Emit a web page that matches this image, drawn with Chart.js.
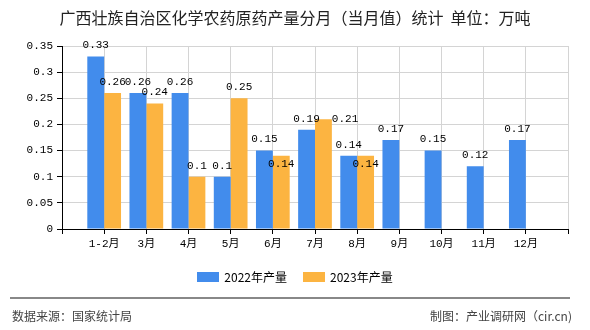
<!DOCTYPE html>
<html>
<head>
<meta charset="utf-8">
<script src="https://cdn.jsdelivr.net/npm/chart.js@4"></script>
<style>
  body { margin: 0; background: #fff; }
  #wrap { position: relative; width: 590px; height: 330px; overflow: hidden; }
  #chart { position: absolute; left: 0; top: 0; }
  #title {
    position: absolute; left: 0; top: 7px; width: 590px; text-align: center;
    font: 16px "Noto Sans CJK SC", sans-serif; color: #222; line-height: 20px;
  }
  #legend {
    position: absolute; left: 0; top: 268px; width: 590px;
    display: flex; justify-content: center; align-items: center;
    font: 12px "Noto Sans CJK SC", sans-serif; color: #000;
  }
  .item { display: flex; align-items: center; margin: 0 8px; }
  .box { width: 22px; height: 10px; margin-right: 5px; }
  #rule { position: absolute; left: 10px; top: 297px; width: 560px; height: 0; border-top: 2px solid #888; }
  .foot { position: absolute; top: 307px; font: 12px "Noto Sans CJK SC", sans-serif; color: #444; line-height: 18px; }
  #src { left: 12px; }
  #maker { right: 18px; }
</style>
</head>
<body>
<div id="wrap">
  <canvas id="chart" width="590" height="330"></canvas>
  <div id="title">广西壮族自治区化学农药原药产量分月（当月值）统计&nbsp; 单位：万吨</div>
  <div id="legend"></div>
  <div id="rule"></div>
  <div class="foot" id="src">数据来源：国家统计局</div>
  <div class="foot" id="maker">制图：产业调研网（cir.cn)</div>
</div>
<script>
const months = ["1-2月", "3月", "4月", "5月", "6月", "7月", "8月", "9月", "10月", "11月", "12月"];
const prod2022 = [0.33, 0.26, 0.26, 0.1, 0.15, 0.19, 0.14, 0.17, 0.15, 0.12, 0.17];
const prod2023 = [0.26, 0.24, 0.1, 0.25, 0.14, 0.21, 0.14];
const yTicks = [0, 0.05, 0.1, 0.15, 0.2, 0.25, 0.3, 0.35];

const BLUE = "#428cec";
const ORANGE = "#fcb441";
const MONO = '"Liberation Mono", "Noto Sans CJK SC", monospace';

// empty slots at both ends so the months sit on the inner grid lines
const labels = ["", ...months, ""];
function pad(arr) {
  const out = [null];
  months.forEach((m, i) => out.push(arr[i] === undefined ? null : arr[i]));
  out.push(null);
  return out;
}

const valueLabels = {
  id: "valueLabels",
  afterDatasetsDraw(chart) {
    const { ctx } = chart;
    const blue = chart.getDatasetMeta(0).data;
    const orange = chart.getDatasetMeta(1).data;
    const ds = chart.data.datasets;
    ctx.save();
    ctx.font = "11px " + MONO;
    ctx.fillStyle = "#000";
    ctx.textBaseline = "middle";
    for (let i = 0; i < labels.length; i++) {
      const items = [];
      [blue, orange].forEach((meta, d) => {
        const v = ds[d].data[i];
        if (v === null || v === undefined) return;
        const bar = meta[i];
        const text = String(v);
        items.push({ d, v, bar, text, w: ctx.measureText(text).width, x: bar.x, y: bar.y - 11 });
      });
      if (items.length === 2) {
        const [a, b] = items;
        // move the second label out of the way when it collides with the first
        if (b.v > a.v) {
          if (a.y - b.y < 12) {
            b.x = b.bar.x + b.bar.width / 2 + b.w / 2;
            b.y = b.bar.y;
          }
        } else if (b.y - a.y < 10) {
          b.y += 19;
        }
      }
      items.forEach(it => {
        ctx.textAlign = "center";
        ctx.fillText(it.text, it.x, it.y);
      });
    }
    ctx.restore();
  }
};

const chart = new Chart(document.getElementById("chart"), {
  type: "bar",
  data: {
    labels: labels,
    datasets: [
      { label: "2022年产量", data: pad(prod2022), backgroundColor: BLUE },
      { label: "2023年产量", data: pad(prod2023), backgroundColor: ORANGE }
    ]
  },
  options: {
    responsive: false,
    animation: false,
    devicePixelRatio: 1,
    categoryPercentage: 0.8,
    barPercentage: 1.0,
    layout: { padding: { left: 0, right: 22, top: 46, bottom: 71 } },
    plugins: {
      legend: { display: false },
      tooltip: { enabled: false }
    },
    scales: {
      x: {
        offset: false,
        grid: { offset: false, color: "#d4d4d4", tickColor: "#000", tickLength: 5 },
        border: { color: "#000", width: 1 },
        ticks: { color: "#000", font: { family: MONO, size: 11 }, padding: 3, maxRotation: 0, autoSkip: false },
        afterFit(scale) { scale.height = 30; }
      },
      y: {
        min: 0,
        max: 0.35,
        afterBuildTicks(scale) { scale.ticks = yTicks.map(v => ({ value: v })); },
        grid: { color: "#d4d4d4", tickColor: "#000", tickLength: 5 },
        border: { color: "#000", width: 1 },
        ticks: {
          color: "#000",
          font: { family: MONO, size: 11 },
          padding: 4,
          callback: v => String(+Number(v).toFixed(2))
        },
        afterFit(scale) { scale.width = 62; }
      }
    }
  },
  plugins: [valueLabels]
});

const legend = document.getElementById("legend");
chart.data.datasets.forEach(ds => {
  const item = document.createElement("div");
  item.className = "item";
  const box = document.createElement("span");
  box.className = "box";
  box.style.background = ds.backgroundColor;
  const txt = document.createElement("span");
  txt.textContent = ds.label;
  item.appendChild(box);
  item.appendChild(txt);
  legend.appendChild(item);
});
</script>
</body>
</html>
